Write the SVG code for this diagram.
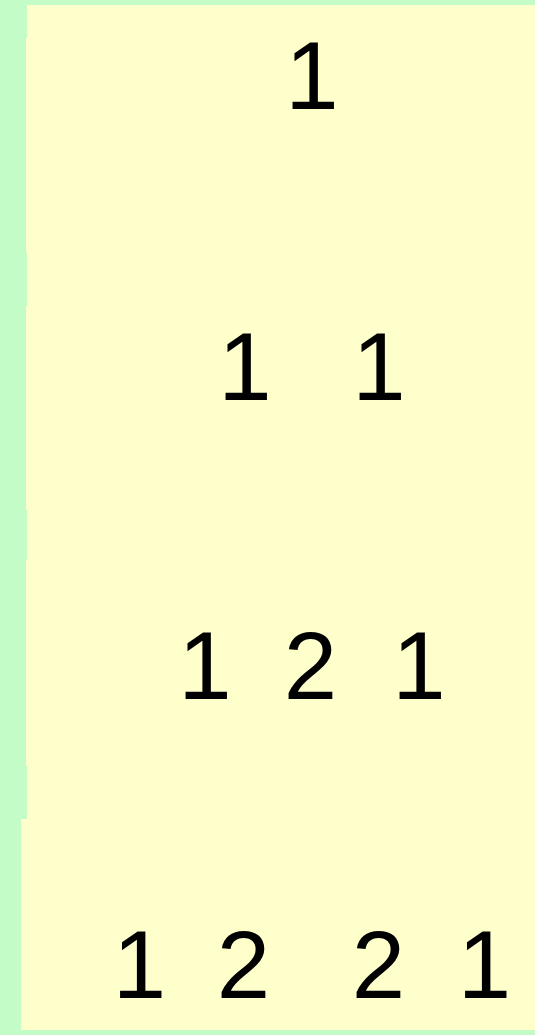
<svg xmlns="http://www.w3.org/2000/svg" width="535" height="1035" viewBox="0 0 535 1035">
<style>
.bg{fill:#c4fcc8}
.panel{fill:#ffffcc}
.num{font-family:"Liberation Sans",Arial,sans-serif;font-size:96px;fill:#000;text-anchor:middle}
</style>
<rect class="bg" x="0" y="0" width="535" height="1035"/>
<g id="panels">
<rect class="panel" x="27" y="5" width="508" height="33"/>
<rect class="panel" x="26" y="38" width="509" height="215"/>
<rect class="panel" x="27" y="253" width="508" height="53"/>
<rect class="panel" x="26" y="306" width="509" height="204"/>
<rect class="panel" x="27" y="510" width="508" height="50"/>
<rect class="panel" x="26" y="560" width="509" height="206"/>
<rect class="panel" x="27" y="766" width="508" height="53"/>
<rect class="panel" x="21" y="819" width="514" height="211"/>
</g>
<g id="row1"><text class="num" x="312" y="109">1</text></g>
<g id="row2"><text class="num" x="245" y="400">1</text><text class="num" x="379" y="400">1</text></g>
<g id="row3"><text class="num" x="205" y="699">1</text><text class="num" x="310.5" y="699">2</text><text class="num" x="419" y="699">1</text></g>
<g id="row4"><text class="num" x="139.5" y="998">1</text><text class="num" x="243.5" y="998">2</text><text class="num" x="378.5" y="998">2</text><text class="num" x="484.5" y="998">1</text></g>
</svg>
